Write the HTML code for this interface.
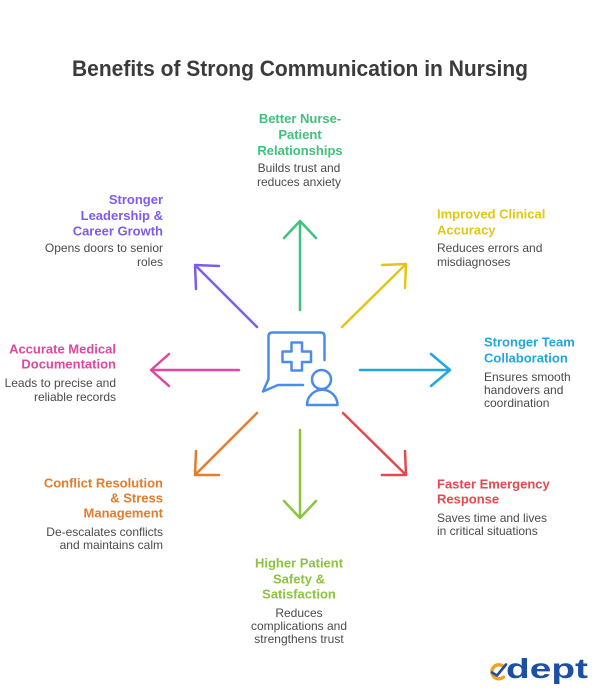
<!DOCTYPE html>
<html>
<head>
<meta charset="utf-8">
<style>
  html,body{margin:0;padding:0;background:#fff;}
  body{width:600px;height:700px;overflow:hidden;}
  svg{display:block;}
  .t{font-family:"Liberation Sans",sans-serif;font-weight:bold;font-size:13px;}
  .d{font-family:"Liberation Sans",sans-serif;font-size:12px;fill:#4a4a4a;}
</style>
</head>
<body>
<svg width="600" height="700" viewBox="0 0 600 700" xmlns="http://www.w3.org/2000/svg">
  <rect width="600" height="700" fill="#ffffff"/>

  <!-- Title -->
  <text x="300" y="76" text-anchor="middle" font-family="Liberation Sans, sans-serif" font-weight="bold" font-size="22" fill="#3b3b3b" textLength="456" lengthAdjust="spacingAndGlyphs">Benefits of Strong Communication in Nursing</text>

  <!-- Arrows -->
  <g fill="none" stroke-width="2.5" stroke-linecap="round" stroke-linejoin="round">
    <g stroke="#3ec27c">
      <line x1="300" y1="310" x2="300" y2="222"/>
      <polyline points="284,238 300,221 316,238"/>
    </g>
    <g stroke="#e3c613">
      <line x1="342" y1="327" x2="405" y2="265"/>
      <polyline points="382,265 406,264 405,288"/>
    </g>
    <g stroke="#7a5cf0">
      <line x1="257" y1="327" x2="196" y2="266"/>
      <polyline points="219,266 195,265 196,289"/>
    </g>
    <g stroke="#e0479e">
      <line x1="239" y1="370" x2="152" y2="370"/>
      <polyline points="169,354 151,370 169,386"/>
    </g>
    <g stroke="#1fa8dc">
      <line x1="360" y1="370" x2="449" y2="370"/>
      <polyline points="431,354 450,370 431,386"/>
    </g>
    <g stroke="#e37c2b">
      <line x1="257" y1="413" x2="196" y2="474"/>
      <polyline points="196,451 195,475 219,475"/>
    </g>
    <g stroke="#e5484d">
      <line x1="343" y1="413" x2="405" y2="474"/>
      <polyline points="405,451 406,475 382,475"/>
    </g>
    <g stroke="#8cc43f">
      <line x1="300" y1="430" x2="300" y2="517"/>
      <polyline points="284,501 300,518 316,501"/>
    </g>
  </g>

  <!-- Center icon -->
  <g fill="none" stroke="#4b8bea" stroke-width="2.5" stroke-linecap="round" stroke-linejoin="round">
    <path d="M324.5,360 V336.5 Q324.5,332.5 320.5,332.5 H272.5 Q268.5,332.5 268.5,336.5 V379 L263,391.5 L278,385 H303"/>
    <path d="M291.5,342.5 H302 V351.5 H311 V362 H302 V370.5 H291.5 V362 H282.5 V351.5 H291.5 Z"/>
    <circle cx="321.5" cy="379.5" r="9.5"/>
    <path d="M307,405 A15.25,15.25 0 0 1 337.5,405 Z"/>
  </g>

  <!-- Green: top -->
  <g text-anchor="middle">
    <text class="t" fill="#3ec27c" x="300" y="123">Better Nurse-</text>
    <text class="t" fill="#3ec27c" x="300" y="139">Patient</text>
    <text class="t" fill="#3ec27c" x="300" y="155">Relationships</text>
    <text class="d" x="299" y="172">Builds trust and</text>
    <text class="d" x="299" y="186">reduces anxiety</text>
  </g>

  <!-- Purple: upper-left -->
  <g text-anchor="end">
    <text class="t" fill="#7a5cf0" x="163" y="204">Stronger</text>
    <text class="t" fill="#7a5cf0" x="163" y="220">Leadership &amp;</text>
    <text class="t" fill="#7a5cf0" x="163" y="235.5">Career Growth</text>
    <text class="d" x="163" y="252">Opens doors to senior</text>
    <text class="d" x="163" y="266">roles</text>
  </g>

  <!-- Yellow: upper-right -->
  <g text-anchor="start">
    <text class="t" fill="#e3c613" x="437" y="218.5">Improved Clinical</text>
    <text class="t" fill="#e3c613" x="437" y="234.5">Accuracy</text>
    <text class="d" x="437" y="252">Reduces errors and</text>
    <text class="d" x="437" y="266">misdiagnoses</text>
  </g>

  <!-- Pink: left -->
  <g text-anchor="end">
    <text class="t" fill="#e0479e" x="116" y="353.5">Accurate Medical</text>
    <text class="t" fill="#e0479e" x="116" y="368.5">Documentation</text>
    <text class="d" x="116" y="387">Leads to precise and</text>
    <text class="d" x="116" y="401">reliable records</text>
  </g>

  <!-- Cyan: right -->
  <g text-anchor="start">
    <text class="t" fill="#1fa8dc" x="484" y="346.5">Stronger Team</text>
    <text class="t" fill="#1fa8dc" x="484" y="362.5">Collaboration</text>
    <text class="d" x="484" y="381">Ensures smooth</text>
    <text class="d" x="484" y="394">handovers and</text>
    <text class="d" x="484" y="407">coordination</text>
  </g>

  <!-- Orange: lower-left -->
  <g text-anchor="end">
    <text class="t" fill="#e37c2b" x="163" y="487.5">Conflict Resolution</text>
    <text class="t" fill="#e37c2b" x="163" y="502.5">&amp; Stress</text>
    <text class="t" fill="#e37c2b" x="163" y="517.5">Management</text>
    <text class="d" x="163" y="536">De-escalates conflicts</text>
    <text class="d" x="163" y="549">and maintains calm</text>
  </g>

  <!-- Red: lower-right -->
  <g text-anchor="start">
    <text class="t" fill="#e5484d" x="437" y="488.5">Faster Emergency</text>
    <text class="t" fill="#e5484d" x="437" y="503.5">Response</text>
    <text class="d" x="437" y="522">Saves time and lives</text>
    <text class="d" x="437" y="535">in critical situations</text>
  </g>

  <!-- Lime: bottom -->
  <g text-anchor="middle">
    <text class="t" fill="#8cc43f" x="299" y="567.5">Higher Patient</text>
    <text class="t" fill="#8cc43f" x="299" y="583.5">Safety &amp;</text>
    <text class="t" fill="#8cc43f" x="299" y="598.5">Satisfaction</text>
    <text class="d" x="299" y="617">Reduces</text>
    <text class="d" x="299" y="630">complications and</text>
    <text class="d" x="299" y="643">strengthens trust</text>
  </g>

  <!-- Logo -->
  <g>
    <path d="M504,667 A7,7 0 1 0 503.5,677" fill="none" stroke="#f0a223" stroke-width="3.4" stroke-linecap="round"/>
    <path d="M492,672.5 L497,675.5 L506,664.5" fill="none" stroke="#1d4fa3" stroke-width="2.6" stroke-linecap="round" stroke-linejoin="round"/>
    <text x="506" y="678" font-family="Liberation Sans, sans-serif" font-weight="bold" font-size="28" fill="#1d4fa3" textLength="82" lengthAdjust="spacingAndGlyphs">dept</text>
  </g>
</svg>
</body>
</html>
